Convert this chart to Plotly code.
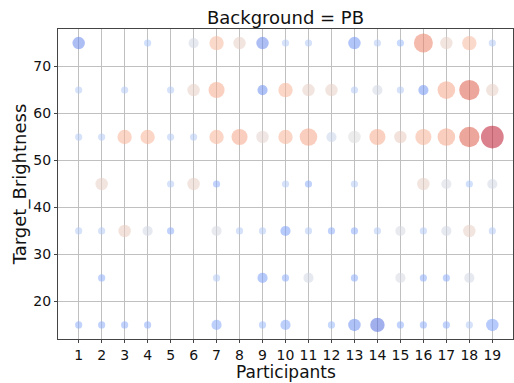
import plotly.graph_objects as go

# Bubble positions: participant id and target brightness level
participant = [
    1, 4, 6, 7, 8, 9, 10, 11, 13, 14, 15, 16, 17, 18, 19,          # 75
    1, 3, 5, 6, 7, 9, 10, 11, 12, 13, 14, 15, 16, 17, 18, 19,      # 65
    1, 2, 3, 4, 5, 6, 7, 8, 9, 10, 11, 12, 13, 14, 15, 16, 17, 18, 19,  # 55
    2, 5, 6, 7, 10, 11, 13, 16, 17, 18, 19,                        # 45
    1, 2, 3, 4, 5, 7, 8, 9, 10, 11, 12, 13, 14, 15, 16, 17, 18, 19,  # 35
    2, 7, 9, 10, 11, 13, 15, 16, 17, 18,                           # 25
    1, 2, 3, 4, 7, 9, 10, 12, 13, 14, 15, 16, 17, 18, 19,          # 15
]
brightness = (
    [75] * 15 + [65] * 16 + [55] * 19 + [45] * 11 + [35] * 18 + [25] * 10 + [15] * 15
)

# Number of trials at each point (drives bubble area)
count = [
    3, 1, 2, 4, 3, 3, 1, 1, 3, 1, 1, 7, 3, 4, 1,
    1, 1, 1, 3, 5, 2, 4, 3, 3, 1, 2, 1, 2, 6, 8, 3,
    1, 1, 4, 4, 1, 1, 4, 5, 3, 4, 6, 2, 3, 5, 3, 5, 6, 8, 10,
    3, 1, 3, 1, 1, 1, 1, 3, 2, 1, 2,
    1, 1, 3, 2, 1, 2, 1, 1, 2, 1, 1, 1, 1, 2, 1, 2, 3, 1,
    1, 1, 2, 1, 2, 1, 2, 1, 1, 2,
    1, 1, 1, 1, 2, 1, 2, 1, 3, 4, 1, 1, 1, 1, 3,
]

# Mean normalised response at each point (drives colour)
score = [
    0.18, 0.38, 0.47, 0.62, 0.55, 0.18, 0.40, 0.40, 0.22, 0.40, 0.33, 0.80, 0.55, 0.62, 0.40,
    0.40, 0.40, 0.40, 0.55, 0.68, 0.20, 0.64, 0.55, 0.55, 0.40, 0.47, 0.40, 0.22, 0.70, 0.88, 0.55,
    0.40, 0.40, 0.64, 0.64, 0.40, 0.40, 0.64, 0.70, 0.53, 0.64, 0.70, 0.45, 0.50, 0.68, 0.56, 0.66, 0.70, 0.88, 0.97,
    0.55, 0.40, 0.55, 0.30, 0.40, 0.30, 0.40, 0.55, 0.48, 0.38, 0.47,
    0.40, 0.40, 0.56, 0.47, 0.30, 0.48, 0.40, 0.40, 0.25, 0.40, 0.30, 0.30, 0.40, 0.48, 0.40, 0.47, 0.55, 0.40,
    0.30, 0.40, 0.25, 0.30, 0.47, 0.30, 0.48, 0.30, 0.30, 0.47,
    0.30, 0.30, 0.30, 0.30, 0.28, 0.33, 0.28, 0.33, 0.20, 0.10, 0.30, 0.30, 0.30, 0.40, 0.25,
]

participant_ticks = list(range(1, 20))
brightness_ticks = [20, 30, 40, 50, 60, 70]

# matplotlib-style coolwarm diverging map
coolwarm = [
    [0.0, "#3b4cc0"], [0.125, "#5a78e4"], [0.25, "#7b9ff9"], [0.375, "#aac7fd"],
    [0.5, "#dddcdc"], [0.625, "#f7b89c"], [0.75, "#f49a7b"], [0.875, "#de604d"],
    [1.0, "#b40426"],
]

diam = [7.2 * c ** 0.5 for c in count]

fig = go.Figure(
    go.Scatter(
        x=participant,
        y=brightness,
        mode="markers",
        marker=dict(
            size=diam,
            sizemode="diameter",
            color=score,
            colorscale=coolwarm,
            cmin=0,
            cmax=1,
            opacity=0.55,
            line=dict(width=0),
        ),
        showlegend=False,
    )
)

font = "DejaVu Sans, Arial, sans-serif"
axis_common = dict(
    showgrid=True,
    gridcolor="#c0c0c0",
    gridwidth=1,
    showline=True,
    linecolor="#444444",
    linewidth=1,
    mirror=True,
    ticks="outside",
    ticklen=3,
    tickwidth=1,
    tickcolor="#444444",
    zeroline=False,
    tickfont=dict(family=font, size=14, color="#111111"),
)

plot_top, plot_bottom = 29, 339

fig.update_layout(
    width=514,
    height=383,
    margin=dict(l=58, r=1, t=plot_top, b=383 - plot_bottom, autoexpand=False),
    paper_bgcolor="white",
    plot_bgcolor="white",
    title=dict(
        text="Background = PB",
        x=0.5,
        xref="paper",
        xanchor="center",
        y=1 - 18 / 383,
        yref="container",
        yanchor="middle",
        font=dict(family=font, size=18, color="#111111"),
    ),
    xaxis=dict(
        axis_common,
        range=[0.1, 19.9],
        tickvals=participant_ticks,
        ticktext=[str(t) for t in participant_ticks],
    ),
    yaxis=dict(
        axis_common,
        range=[12, 78],
        tickvals=brightness_ticks,
        title=dict(text="Target_Brightness", standoff=2,
                   font=dict(family=font, size=18, color="#111111")),
    ),
    annotations=[
        dict(
            text="Participants",
            xref="paper",
            yref="paper",
            x=0.5,
            y=-(383 - plot_bottom) / (plot_bottom - plot_top),
            xanchor="center",
            yanchor="bottom",
            borderpad=0,
            showarrow=False,
            font=dict(family=font, size=17, color="#111111"),
        )
    ],
)

fig.write_html("out.html")
